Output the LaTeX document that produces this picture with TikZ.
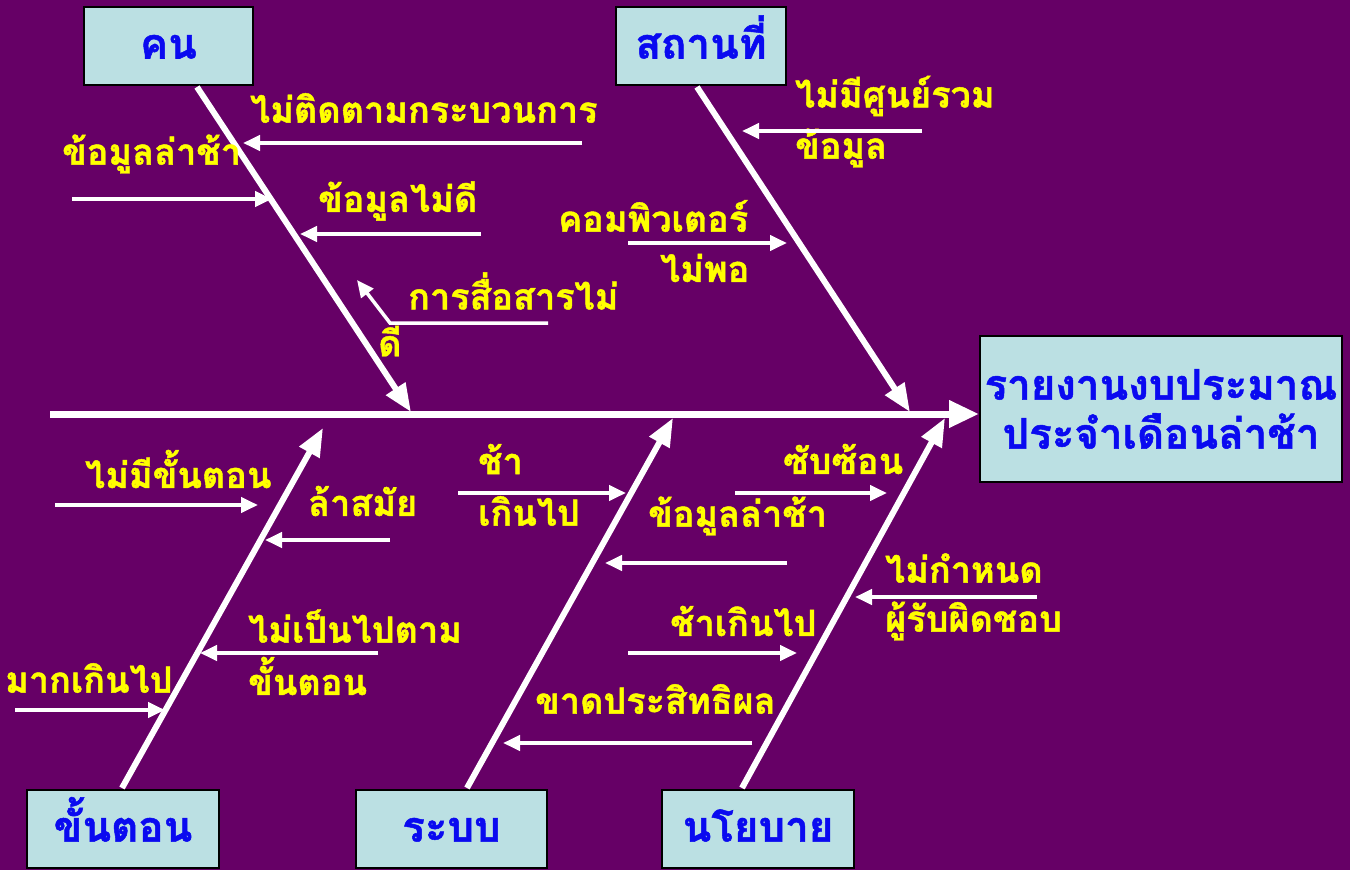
\documentclass[tikz,border=0pt]{standalone}
\usepackage{fontspec}
\newfontfamily\thai[Script=Thai, BoldFeatures={FakeBold=1.2}]{Loma}
\usetikzlibrary{arrows.meta}
\definecolor{bg}{HTML}{660066}
\definecolor{boxfill}{HTML}{BBE0E3}
\definecolor{boxblue}{HTML}{0A0AF0}
\definecolor{yel}{HTML}{FFFF00}
\begin{document}
\begin{tikzpicture}[x=1pt,y=-1pt,
 box/.style={draw=black, line width=2pt, fill=boxfill, text=boxblue, font=\thai\bfseries\fontsize{42}{49}\selectfont, inner sep=0pt, align=center},
 sbox/.style={box, text height=30pt, text depth=5pt, minimum height=78pt},
 lbl/.style={text=yel, font=\thai\bfseries\fontsize{36}{40}\selectfont, inner sep=0pt, anchor=west, yshift=4pt},
 bone/.style={draw=white, line width=6pt, -{Triangle[length=28pt,width=22pt]}},
 twig/.style={draw=white, line width=4pt, -{Triangle[length=17pt,width=15pt]}}]
\useasboundingbox[fill=bg] (0,0) rectangle (1350,870);
% boxes
\node[sbox, minimum width=169pt] (kon) at (168.5,46) {คน};
\node[sbox, minimum width=170pt] (sathan) at (701,46) {สถานที่};
\node[box, minimum width=362pt, minimum height=146pt] (result) at (1161,409) {รายงานงบประมาณ\\ประจำเดือนล่าช้า};
\node[sbox, minimum width=192pt] (khan) at (123,829) {ขั้นตอน};
\node[sbox, minimum width=191pt] (rabob) at (451.5,829) {ระบบ};
\node[sbox, minimum width=192pt] (nayo) at (758,829) {นโยบาย};
% spine
\coordinate (sp0) at (50,414);
\draw[bone, line width=7pt, -{Triangle[length=30pt,width=26pt]}] (sp0) -- (sp0 -| result.west);
% bones
\coordinate (b1) at (411,412);
\coordinate (b2) at (910,412);
\coordinate (b3) at (323,428);
\coordinate (b4) at (673,418);
\coordinate (b5) at (945,418);
\draw[bone] ([xshift=28.5pt,yshift=-1pt]kon.south) -- (b1);
\draw[bone] ([xshift=-4pt,yshift=-1pt]sathan.south) -- (b2);
\draw[bone] ([xshift=-1pt,yshift=1pt]khan.north) -- (b3);
\draw[bone] ([xshift=15.5pt,yshift=1pt]rabob.north) -- (b4);
\draw[bone] ([xshift=-16pt,yshift=1pt]nayo.north) -- (b5);
% labels
\node[lbl] (l1) at (250,112) {ไม่ติดตามกระบวนการ};
\node[lbl] (l2) at (62,158) {ข้อมูลล่าช้า};
\node[lbl] (l3) at (318,205) {ข้อมูลไม่ดี};
\node[lbl] (l4a) at (408,295) {การสื่อสารไม่};
\node[lbl] (l4b) at (378,345) {ดี};
\node[lbl] (l5a) at (795,100) {ไม่มีศูนย์รวม};
\node[lbl] (l5b) at (795,152) {ข้อมูล};
\node[lbl] (l6a) at (558,220) {คอมพิวเตอร์};
\node[lbl] (l6b) at (660,272) {ไม่พอ};
\node[lbl] (l7) at (85,473) {ไม่มีขั้นตอน};
\node[lbl] (l8) at (308,505) {ล้าสมัย};
\node[lbl] (l9a) at (248,630) {ไม่เป็นไปตาม};
\node[lbl] (l9b) at (248,680) {ขั้นตอน};
\node[lbl] (l10) at (5,682) {มากเกินไป};
\node[lbl] (l11a) at (478,463) {ช้า};
\node[lbl] (l11b) at (478,515) {เกินไป};
\node[lbl] (l12) at (648,520) {ข้อมูลล่าช้า};
\node[lbl] (l13) at (670,625) {ช้าเกินไป};
\node[lbl] (l14) at (535,703) {ขาดประสิทธิผล};
\node[lbl] (l15) at (783,463) {ซับซ้อน};
\node[lbl] (l16a) at (885,572) {ไม่กำหนด};
\node[lbl] (l16b) at (885,625) {ผู้รับผิดชอบ};
% twigs
\coordinate (t1a) at (582,143); \coordinate (t1b) at (243,143);
\coordinate (t2a) at (72,199); \coordinate (t2b) at (272,199);
\coordinate (t3a) at (481,234); \coordinate (t3b) at (300,234);
\coordinate (t4a) at (548,323); \coordinate (t4m) at (390,323); \coordinate (t4b) at (357,280);
\coordinate (t5a) at (922,131); \coordinate (t5b) at (742,131);
\coordinate (t6a) at (628,243); \coordinate (t6b) at (787,243);
\coordinate (t7a) at (55,505); \coordinate (t7b) at (258,505);
\coordinate (t8a) at (390,540); \coordinate (t8b) at (265,540);
\coordinate (t9a) at (378,653); \coordinate (t9b) at (200,653);
\coordinate (t10a) at (15,710); \coordinate (t10b) at (165,710);
\coordinate (t11a) at (458,493); \coordinate (t11b) at (626,493);
\coordinate (t12a) at (787,563); \coordinate (t12b) at (605,563);
\coordinate (t13a) at (628,653); \coordinate (t13b) at (797,653);
\coordinate (t14a) at (752,743); \coordinate (t14b) at (503,743);
\coordinate (t15a) at (735,493); \coordinate (t15b) at (887,493);
\coordinate (t16a) at (1037,597); \coordinate (t16b) at (855,597);
\draw[twig] (t1a) -- (t1b);
\draw[twig] (t2a) -- (t2b);
\draw[twig] (t3a) -- (t3b);
\draw[twig, line width=3.5pt] (t4a) -- (t4m) -- (t4b);
\draw[twig] (t5a) -- (t5b);
\draw[twig] (t6a) -- (t6b);
\draw[twig] (t7a) -- (t7b);
\draw[twig] (t8a) -- (t8b);
\draw[twig] (t9a) -- (t9b);
\draw[twig] (t10a) -- (t10b);
\draw[twig] (t11a) -- (t11b);
\draw[twig] (t12a) -- (t12b);
\draw[twig] (t13a) -- (t13b);
\draw[twig] (t14a) -- (t14b);
\draw[twig] (t15a) -- (t15b);
\draw[twig] (t16a) -- (t16b);
\end{tikzpicture}
\end{document}
